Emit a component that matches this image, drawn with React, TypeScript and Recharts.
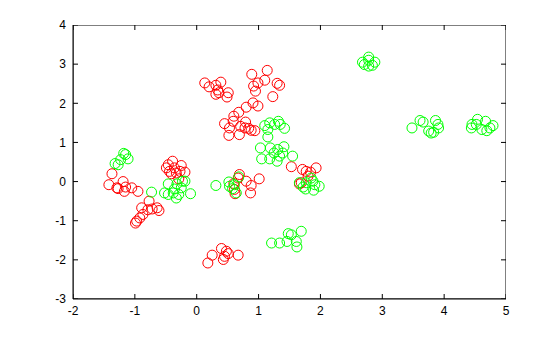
import React from 'react';
import { ScatterChart, Scatter, XAxis, YAxis } from 'recharts';

const xTicks = [-2, -1, 0, 1, 2, 3, 4, 5];
const yTicks = [-3, -2, -1, 0, 1, 2, 3, 4];

const redX = [
  -1.37, -1.42, -1.29, -1.19, -1.15, -1.27, -1.17, -1.05, -0.95, -0.77, -0.89, -0.79, -0.72, -0.64, -0.61, -0.87, -0.92, -0.97, -0.99,
  -0.46, -0.39, -0.49, -0.44, -0.36, -0.33, -0.25, -0.27, -0.19, -0.41, -0.29,
  0.13, 0.2, 0.31, 0.39, 0.34, 0.31, 0.36, 0.51, 0.49,
  0.89, 1.14, 0.99, 0.92, 0.95, 1.1, 1.3, 1.34, 1.23,
  0.99, 0.91, 0.8, 0.68, 0.6, 0.59, 0.45, 0.53, 0.52, 0.69, 0.71, 0.79, 0.78, 0.84, 0.88, 0.94,
  0.69, 0.67, 0.8, 0.88, 0.87, 1.01, 0.61, 0.62, 0.6,
  1.53, 1.71, 1.77, 1.84, 1.93, 1.8, 1.69, 1.66,
  0.4, 0.48, 0.51, 0.45, 0.43, 0.67, 0.25, 0.18,
];
const redY = [
  0.2, -0.08, -0.16, 0, -0.14, -0.18, -0.25, -0.16, -0.25, -0.5, -0.67, -0.72, -0.7, -0.67, -0.74, -0.84, -0.93, -1.01, -1.06,
  0.43, 0.52, 0.35, 0.26, 0.35, 0.22, 0.41, 0.26, 0.24, 0.2, 0.07,
  2.52, 2.42, 2.46, 2.54, 2.34, 2.23, 2.27, 2.27, 2.16,
  2.74, 2.84, 2.52, 2.44, 2.31, 2.59, 2.51, 2.46, 2.17,
  1.93, 2.01, 1.9, 1.77, 1.67, 1.54, 1.48, 1.37, 1.18, 1.2, 1.41, 1.52, 1.37, 1.36, 1.31, 1.3,
  0.18, 0.09, 0.01, -0.1, -0.29, 0.07, -0.2, -0.31, -0.05,
  0.38, 0.31, 0.26, 0.24, 0.35, 0.14, -0.03, -0.06,
  -1.71, -1.78, -1.84, -1.91, -1.99, -1.88, -1.88, -2.08,
];

const greenX = [
  -1.18, -1.15, -1.23, -1.11, -1.32, -1.27,
  -0.73, -0.46, -0.32, -0.19, -0.25, -0.52, -0.46, -0.38, -0.33, -0.29, -0.1, -0.36, -0.23,
  0.31, 0.52, 0.53, 0.68, 0.61, 0.64, 0.58,
  1.1, 1.18, 1.26, 1.32, 1.35, 1.42, 1.15, 1.15, 1.03, 1.19, 1.05, 1.18, 1.25, 1.31, 1.41, 1.39, 1.34, 1.55, 1.3,
  1.66, 1.72, 1.77, 1.88, 1.91, 1.98, 1.89, 1.76, 1.85,
  1.21, 1.34, 1.46, 1.48, 1.53, 1.61, 1.62, 1.69,
  2.68, 2.78, 2.78, 2.71, 2.78, 2.84, 2.88,
  3.48, 3.61, 3.66, 3.86, 3.9, 3.91, 3.75, 3.79, 3.83,
  4.44, 4.45, 4.52, 4.54, 4.67, 4.61, 4.69, 4.79, 4.74,
];
const greenY = [
  0.72, 0.69, 0.56, 0.58, 0.46, 0.43,
  -0.27, -0.06, -0.06, 0.01, -0.16, -0.29, -0.33, -0.29, -0.42, -0.33, -0.31, -0.19, 0.01,
  -0.1, -0.01, -0.12, 0.12, -0.08, -0.29, -0.18,
  1.43, 1.5, 1.46, 1.54, 1.46, 1.36, 1.33, 1.14, 0.86, 0.86, 0.58, 0.58, 0.73, 0.82, 0.89, 0.73, 0.65, 0.65, 0.52,
  -0.03, -0.14, -0.03, 0.01, -0.08, -0.12, -0.22, -0.19, 0.09,
  -1.57, -1.57, -1.53, -1.33, -1.36, -1.53, -1.67, -1.27,
  3.05, 3.18, 3.1, 2.99, 2.95, 2.97, 3.05,
  1.37, 1.56, 1.52, 1.56, 1.46, 1.37, 1.29, 1.24, 1.26,
  1.37, 1.46, 1.46, 1.59, 1.54, 1.33, 1.3, 1.43, 1.37,
];

const redData = redX.map((x, i) => ({ x, y: redY[i] }));
const greenData = greenX.map((x, i) => ({ x, y: greenY[i] }));

const xMin = xTicks[0];
const xMax = xTicks[xTicks.length - 1];
const yMin = yTicks[0];
const yMax = yTicks[yTicks.length - 1];

// corners of the plot box, joined by the scatter line
const frameData = [
  { x: xMin, y: yMin }, { x: xMax, y: yMin }, { x: xMax, y: yMax }, { x: xMin, y: yMax }, { x: xMin, y: yMin },
];
// inward tick marks on all four sides
const tickData = [
  ...xTicks.flatMap((v) => [{ x: v, y: yMin, dir: 'up' }, { x: v, y: yMax, dir: 'down' }]),
  ...yTicks.flatMap((v) => [{ x: xMin, y: v, dir: 'right' }, { x: xMax, y: v, dir: 'left' }]),
];

const FONT = '"Liberation Sans", Arial, sans-serif';
const TICK = 5;

const ring = (color: string) => (props: any) => (
  <circle cx={props.cx} cy={props.cy} r={5} fill="none" stroke={color} strokeWidth={1} />
);
const nothing = () => <g />;

const tickMark = (props: any) => {
  const { cx, cy } = props;
  const dir = props.payload?.dir ?? props.dir;
  const dx = dir === 'right' ? TICK : dir === 'left' ? -TICK : 0;
  const dy = dir === 'down' ? TICK : dir === 'up' ? -TICK : 0;
  return <line x1={cx} y1={cy} x2={cx + dx} y2={cy + dy} stroke="#000" strokeWidth={1} />;
};

export default function App() {
  return (
    <div style={{ position: 'absolute', left: 0, top: 0, background: '#fff' }}>
      <ScatterChart width={560} height={337} margin={{ top: 25, right: 54, bottom: 0, left: 0 }}>
        <XAxis type="number" dataKey="x" domain={[xMin, xMax]} ticks={xTicks} height={38}
          stroke="#000" tickLine={false} tickSize={0} tickMargin={7} allowDataOverflow
          tick={{ fontSize: 12, fontFamily: FONT, fill: '#000' }} />
        <YAxis type="number" dataKey="y" domain={[yMin, yMax]} ticks={yTicks} width={73}
          stroke="#000" tickLine={false} tickSize={0} tickMargin={7} allowDataOverflow
          tick={{ fontSize: 12, fontFamily: FONT, fill: '#000' }} />
        <Scatter data={frameData} shape={nothing} line={{ stroke: '#000', strokeWidth: 1 }} lineType="joint" isAnimationActive={false} />
        <Scatter data={tickData} shape={tickMark} isAnimationActive={false} />
        <Scatter data={redData} shape={ring('#ff0000')} isAnimationActive={false} />
        <Scatter data={greenData} shape={ring('#00ff00')} isAnimationActive={false} />
      </ScatterChart>
    </div>
  );
}
